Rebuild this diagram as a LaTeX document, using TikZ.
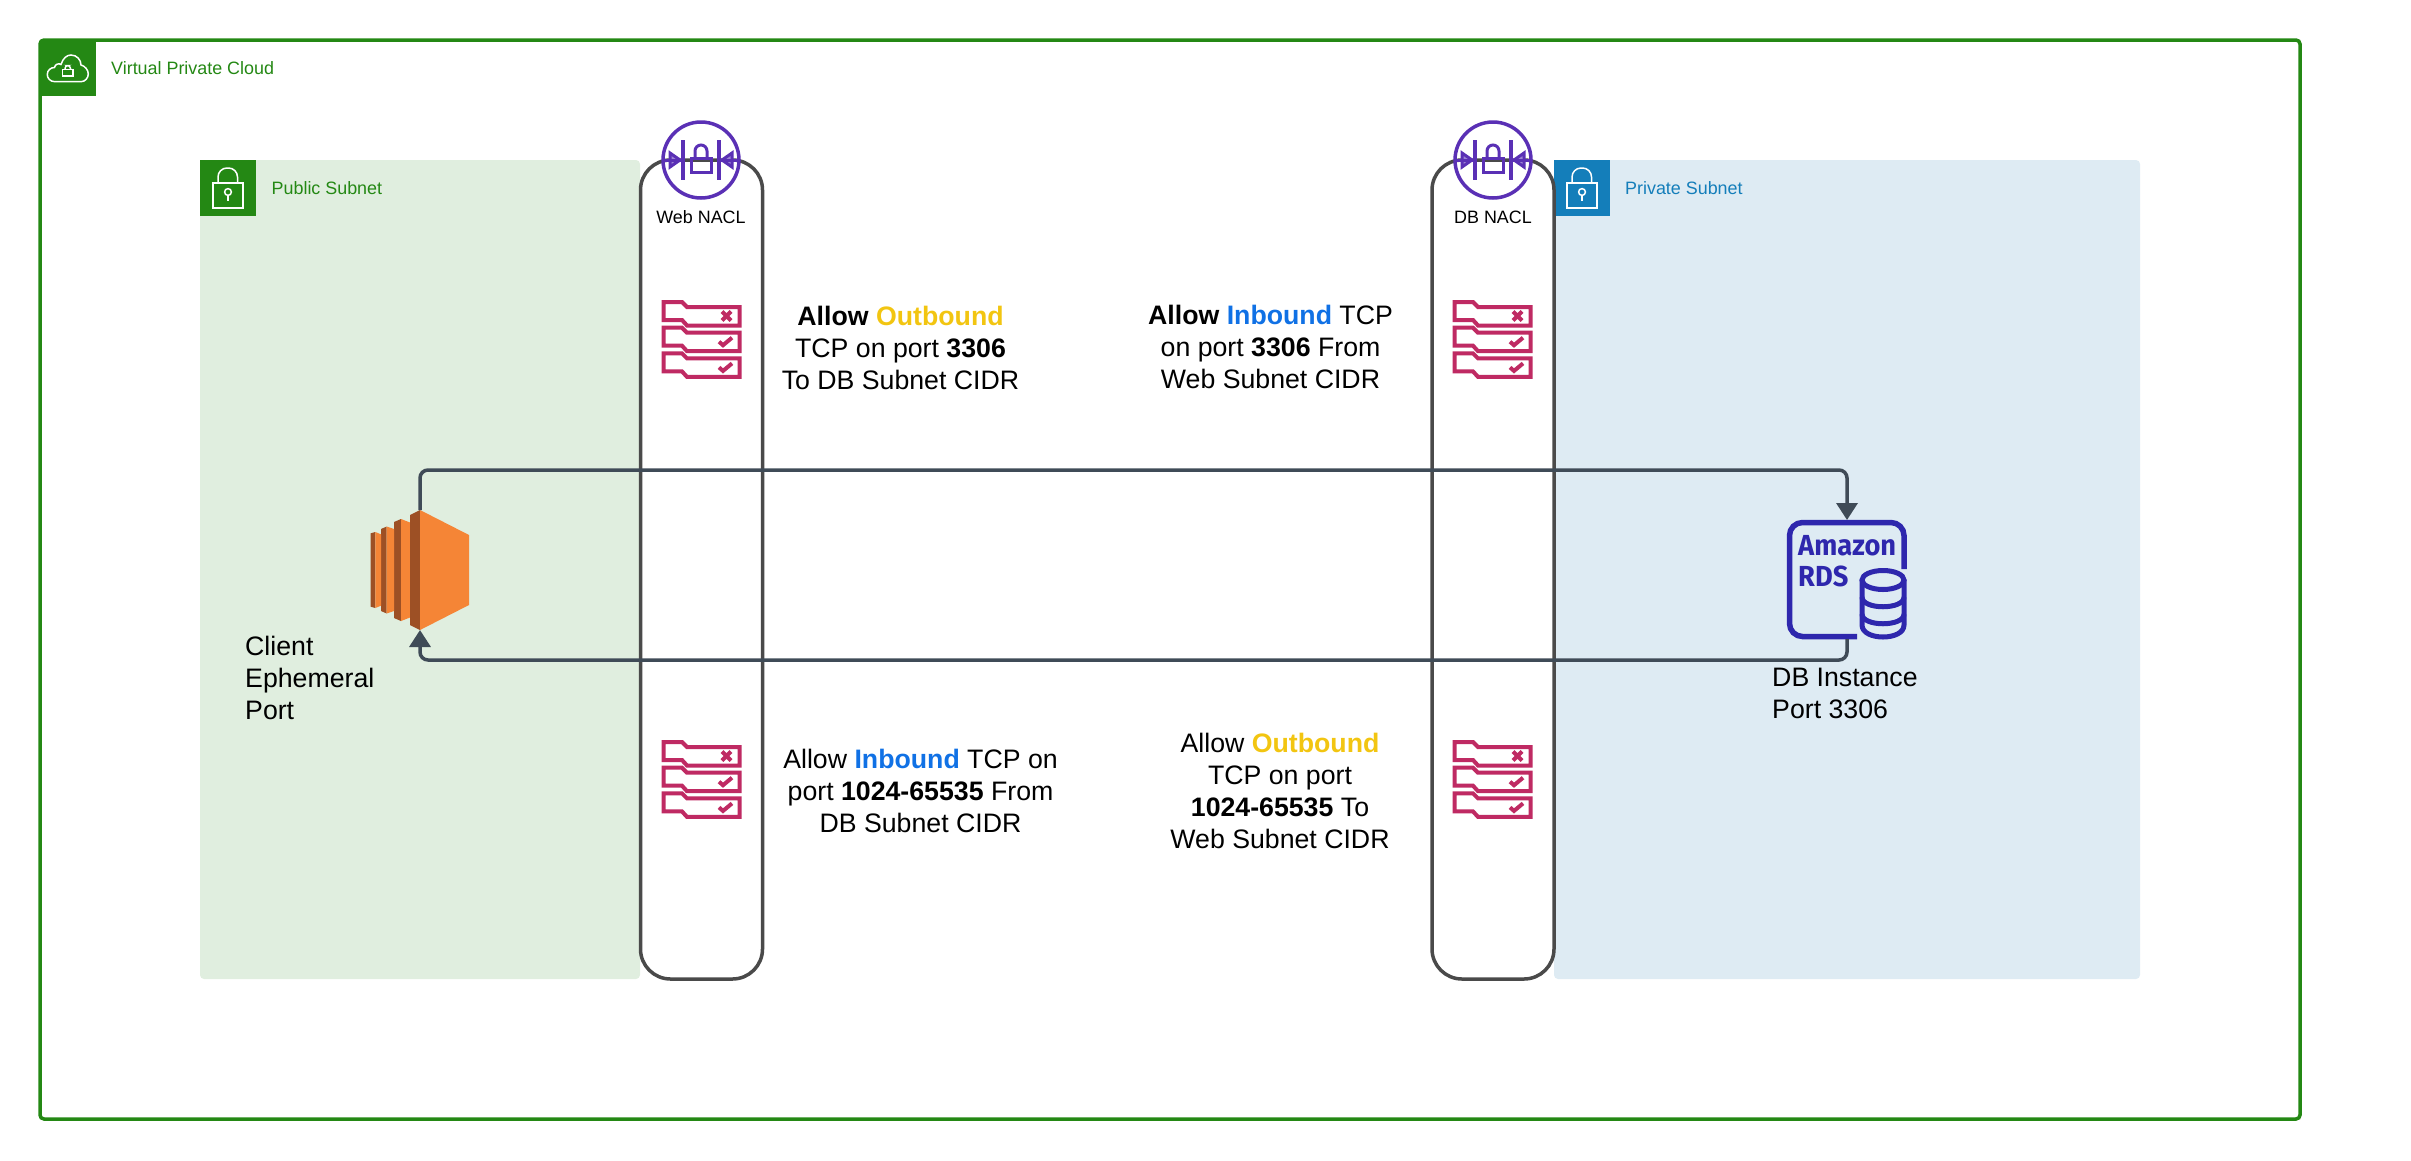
\documentclass[tikz,border=0pt]{standalone}
\usepackage{fontspec}
\usepackage{xcolor}
\usetikzlibrary{arrows.meta,positioning,calc}
\setmainfont{Liberation Sans}
\newfontfamily\rdsfont[FakeStretch=0.94]{Fira Sans}

\definecolor{vpcgreen}{HTML}{248814}
\definecolor{pubfill}{HTML}{E0EEDF}
\definecolor{privblue}{HTML}{147EBA}
\definecolor{privfill}{HTML}{DEEBF3}
\definecolor{naclpurple}{HTML}{5A30B5}
\definecolor{rulepink}{HTML}{BF2A63}
\definecolor{ec2orange}{HTML}{F58536}
\definecolor{ec2dark}{HTML}{9D5025}
\definecolor{rdsblue}{HTML}{2E27AD}
\definecolor{flowgray}{HTML}{3F4B57}
\definecolor{naclgray}{HTML}{4A4A4A}
\definecolor{outcolor}{HTML}{F2C511}
\definecolor{incolor}{HTML}{1071E5}

\newcommand{\outword}{\textcolor{outcolor}{\textbf{Outbound}}}
\newcommand{\inword}{\textcolor{incolor}{\textbf{Inbound}}}

\tikzset{
    subnet/.style={rectangle,rounded corners=4pt,minimum width=#1,minimum height=819pt,inner sep=0pt,outer sep=0pt},
    tagbox/.style={rectangle,minimum width=56pt,minimum height=56pt,inner sep=0pt,outer sep=0pt},
    nacl/.style={rectangle,draw=naclgray,line width=3.5pt,rounded corners=30pt,minimum width=122pt,minimum height=819pt,inner sep=0pt},
    taglabel/.style={anchor=west,inner sep=0pt,font=\fontsize{17.9}{22}\selectfont},
    nacllabel/.style={inner sep=0pt,font=\fontsize{17.9}{22}\selectfont},
    rulelabel/.style={inner sep=0pt,align=center,font=\fontsize{26.7}{32}\selectfont},
    sidelabel/.style={anchor=west,inner sep=0pt,align=left,font=\fontsize{26.7}{32}\selectfont},
    flow/.style={draw=flowgray,line width=3.5pt,rounded corners=8pt,-{Triangle[width=21pt,length=17pt]}},
    pics/naclicon/.style={code={
        \draw[naclpurple,line width=3.5pt] (0,0) circle[radius=38];
        \draw[naclpurple,line width=3.5pt] (-18,-20) -- (-18,20) (18,-20) -- (18,20);
        \draw[naclpurple,line width=3pt] (-10,-2) rectangle (10,12);
        \draw[naclpurple,line width=3pt,rounded corners=6pt] (-6,-2) -- (-6,-15) -- (6,-15) -- (6,-2);
        \draw[naclpurple,line width=3pt,fill=naclpurple!60] (-31,-7) -- (-21,0) -- (-31,7) -- cycle;
        \draw[naclpurple,line width=3pt,fill=naclpurple!60] (31,-7) -- (21,0) -- (31,7) -- cycle;
        \draw[naclpurple,line width=3pt] (-38,0) -- (-18,0) (38,0) -- (18,0);
    }},
    pics/rulesicon/.style={code={
        \foreach \rowy in {0,25.7,51.4} {
            \draw[rulepink,line width=4pt,shift={(0,\rowy)}] (1.5,2) -- (20,2) -- (25,7) -- (77.5,7) -- (77.5,25.5) -- (25,25.5) -- (20,20) -- (1.5,20) -- cycle;
        }
        \draw[rulepink,line width=4pt] (60,11.5) -- (69,20.5) (69,11.5) -- (60,20.5);
        \foreach \rowy in {25.7,51.4} {
            \draw[rulepink,line width=4pt,shift={(0,\rowy)}] (57,16) -- (61,19.5) -- (70,12);
        }
    }},
    pics/subnetlock/.style={code={
        \draw[white,line width=1.5pt] (13,23) rectangle (43,48);
        \draw[white,line width=1.5pt,rounded corners=9pt] (18,23) -- (18,8) -- (37.5,8) -- (37.5,23);
        \draw[white,line width=1.5pt] (28,32) circle[radius=3.4];
        \draw[white,line width=1.5pt] (28,35.4) -- (28,41);
    }},
}

\begin{document}
\begin{tikzpicture}[x=1pt,y=-1pt]
    \useasboundingbox (0,0) rectangle (2411,1160);

    % VPC
    \node[rectangle,draw=vpcgreen,line width=3.5pt,rounded corners=4pt,minimum width=2260pt,minimum height=1079pt,inner sep=0pt] (vpc) at (1170,579.5) {};
    \node[tagbox,fill=vpcgreen] (vpctag) at (68,68) {};
    \draw[white,line width=1.5pt] (55,81.7) .. controls (50,81.7) and (47.3,78) .. (47.3,74.5) .. controls (47.3,70) and (51,67.5) .. (54.5,67.5) .. controls (55,64) and (59,63) .. (61,64.5) .. controls (63,58) and (67,55) .. (71,55) .. controls (77,55) and (81,60) .. (81,65) .. controls (85,66) and (88.3,70) .. (88.3,74) .. controls (88.3,78) and (85,81.7) .. (81,81.7) -- cycle;
    \draw[white,line width=1.5pt] (62.5,69.5) rectangle (73,76);
    \draw[white,line width=1.5pt,rounded corners=3pt] (65,69.5) -- (65,65.5) -- (70.5,65.5) -- (70.5,69.5);
    \node[taglabel,text=vpcgreen] (vpclabel) at (111,68) {Virtual Private Cloud};

    % Public subnet
    \node[subnet=440pt,fill=pubfill] (pubsub) at (420,569.5) {};
    \node[tagbox,fill=vpcgreen] (pubtag) at (228,188) {};
    \pic (publock) at (200,160) {subnetlock};
    \node[taglabel,text=vpcgreen] (publabel) at (271.5,188) {Public Subnet};

    % Private subnet
    \node[subnet=586pt,fill=privfill] (privsub) at (1847,569.5) {};
    \node[tagbox,fill=privblue] (privtag) at (1582,188) {};
    \pic (privlock) at (1554,160) {subnetlock};
    \node[taglabel,text=privblue] (privlabel) at (1625,188) {Private Subnet};

    % NACLs
    \node[nacl,fill=white] (webnacl) at (701.5,569.5) {};
    \node[nacl,fill=white] (dbnacl) at (1493,569.5) {};
    \pic (webicon) at (701,160) {naclicon};
    \pic (dbicon) at (1493,160) {naclicon};
    \node[nacllabel] (weblabel) at (701,217) {Web NACL};
    \node[nacllabel] (dblabel) at (1493,217) {DB NACL};
    \pic (webrulesa) at (662,300) {rulesicon};
    \pic (webrulesb) at (662,740) {rulesicon};
    \pic (dbrulesa) at (1453,300) {rulesicon};
    \pic (dbrulesb) at (1453,740) {rulesicon};

    % Rule texts
    \node[rulelabel] (webout) at (900.5,347.5) {\textbf{Allow} \outword\\TCP on port \textbf{3306}\\To DB Subnet CIDR};
    \node[rulelabel] (dbin) at (1270.5,346.5) {\textbf{Allow} \inword{} TCP\\on port \textbf{3306} From\\Web Subnet CIDR};
    \node[rulelabel] (webin) at (920.5,790.5) {Allow \inword{} TCP on\\port \textbf{1024-65535} From\\DB Subnet CIDR};
    \node[rulelabel] (dbout) at (1280,790.5) {Allow \outword\\TCP on port\\\textbf{1024-65535} To\\Web Subnet CIDR};

    % EC2 instance
    \node[rectangle,minimum width=99pt,minimum height=120pt,inner sep=0pt,outer sep=0pt] (ec2) at (420,570) {};
    \foreach \xa/\xb/\xc/\ya/\yb/\yc in {394/401/410/48/51/47.5,381/386.7/394/41/43.5/41,370.7/375.3/381/36.7/38/35.7} {
        \fill[ec2dark] (\xa,570-\ya) -- (\xb,570-\yb) -- (\xb,570+\yb) -- (\xa,570+\ya) -- cycle;
        \fill[ec2orange] (\xb,570-\yb) -- (\xc,570-\yc) -- (\xc,570+\yc) -- (\xb,570+\yb) -- cycle;
    }
    \fill[ec2dark] (410,515) -- (420,510) -- (420,630) -- (410,625) -- cycle;
    \fill[ec2orange] (420,510) -- (469,535) -- (469,605) -- (420,630) -- cycle;
    \node[sidelabel] (ec2label) at (245,678) {Client\\Ephemeral\\Port};

    % RDS instance
    \node[rectangle,minimum width=120pt,minimum height=119pt,inner sep=0pt,outer sep=0pt] (rds) at (1847,579.5) {};
    \draw[rdsblue,line width=5.5pt,rounded corners=13pt] (1904,569) -- (1904,522.5) -- (1789.5,522.5) -- (1789.5,636.5) -- (1857,636.5);
    \node[anchor=base west,inner sep=0pt,text=rdsblue,font=\rdsfont\bfseries\fontsize{29}{30}\selectfont] (rdsnamea) at (1798,555) {Amazon};
    \node[anchor=base west,inner sep=0pt,text=rdsblue,font=\rdsfont\bfseries\fontsize{29}{30}\selectfont] (rdsnameb) at (1798,586) {RDS};
    \draw[rdsblue,line width=5pt,fill=privfill] (1862,580) -- (1862,625) .. controls (1862,641) and (1904,641) .. (1904,625) -- (1904,580);
    \draw[rdsblue,line width=5pt] (1883,580) ellipse[x radius=21,y radius=9.5];
    \draw[rdsblue,line width=5pt] (1862,597) .. controls (1862,610) and (1904,610) .. (1904,597);
    \draw[rdsblue,line width=5pt] (1862,614) .. controls (1862,627) and (1904,627) .. (1904,614);
    \node[sidelabel] (rdslabel) at (1772,693) {DB Instance\\Port 3306};

    % Connectors
    \coordinate (topleft) at (ec2.north |- 0,470);
    \coordinate (topright) at (rds.north |- 0,470);
    \coordinate (lowright) at (rds.south |- 0,660);
    \coordinate (lowleft) at (ec2.south |- 0,660);
    \draw[flow] (ec2.north) -- (topleft) -- (topright) -- (rds.north);
    \draw[flow] (rds.south) -- (lowright) -- (lowleft) -- (ec2.south);
\end{tikzpicture}
\end{document}
